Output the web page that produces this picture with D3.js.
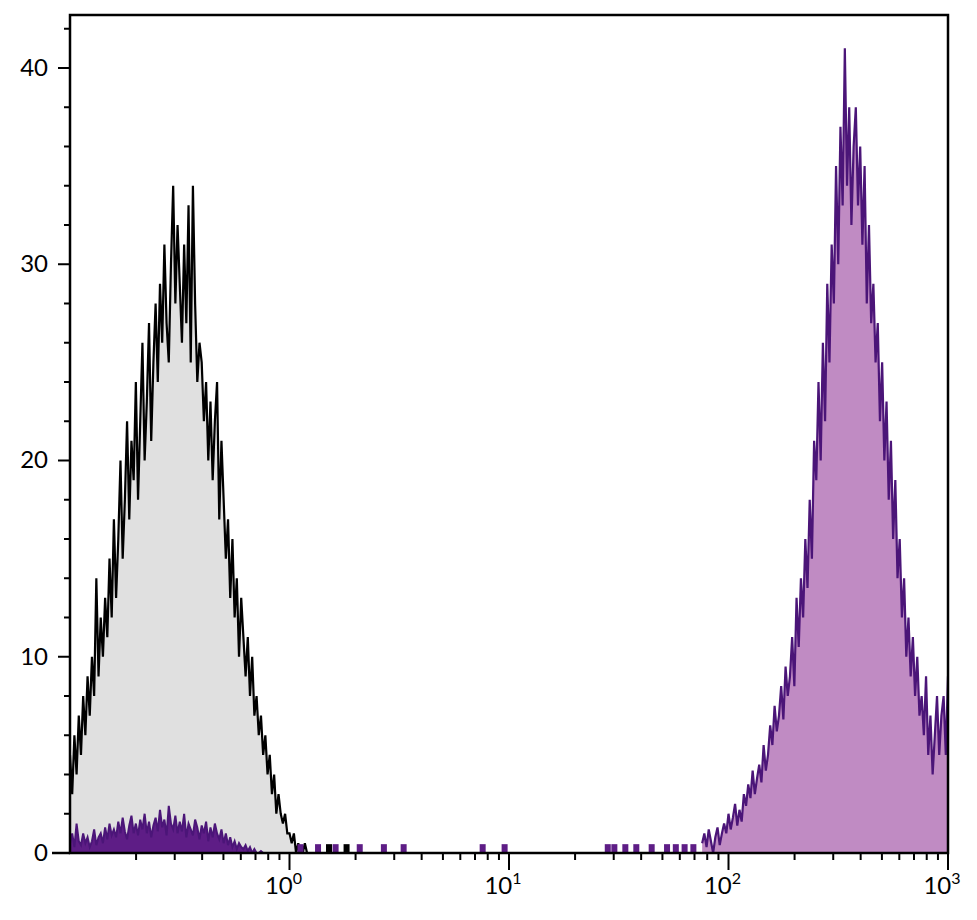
<!DOCTYPE html>
<head>
<meta charset="utf-8">
<script src="https://d3js.org/d3.v7.min.js"></script>
<style>
body { margin: 0; background: #fff; }
text { font-family: Lato, "Open Sans", sans-serif; }
</style>
</head>
<body>
<div id="container"></div>
<script>
// histogram bins: log10 start, step 0.01
const blackStart = -1.0;
const blackCounts = [
 5,3,6,4,7,5,8,6,9,7,
 10,8,14,9,12,10,13,11,15,12,
 17,13,16,20,15,18,22,17,21,19,
 24,18,22,26,20,23,27,21,25,28,
 24,29,26,31,27,25,30,34,28,32,
 29,26,31,27,33,25,34,28,24,26,
 25,22,24,20,23,19,22,24,17,21,
 18,15,17,13,16,12,14,10,13,11,
 9,11,8,10,7,8,6,7,5,6,
 4,5,3,4,2,3,2,1.5,2,1,
 1,0.5,1,0,0.5,0,0,0.5,0,0,0,0,0];
const lowPurpleStart = -1.0;
const lowPurpleCounts = [
 0.5,1,0.3,1.5,0.6,0.4,1,0.5,0.8,0.3,
 0.6,1.2,0.4,0.8,1,0.5,1.3,0.7,1.5,0.9,
 1.2,0.8,1.6,1,1.8,1.1,0.7,1.4,1.9,1,
 1.5,0.9,1.7,1.2,2,1,1.6,0.8,1.4,1.8,
 1.1,2.2,1.3,1.7,0.9,2.4,1.5,1.2,1.9,1,
 1.6,1.1,2,0.8,1.5,1.2,0.9,1.7,1.3,0.7,
 1.4,1,1.6,0.6,1.3,0.8,1.5,1,0.7,1.2,
 0.5,1,0.4,0.8,0.3,0.6,0.2,0.5,0.3,0.2,
 0.4,0.1,0.3,0,0.2,0,0,0.1,0,0,0];
const highPurpleStart = 1.88;
const highPurpleCounts = [
 0.5,1,0.3,1.2,0.6,0,0.8,1.3,0.4,1,
 1.5,1,2,1.2,1.8,2.5,1.4,2.2,1.6,3,
 2.4,3.5,2.8,4.2,3,3.8,4.5,3.6,5.5,4.2,
 5,6.5,5.5,7.5,6.2,7,8.5,6.8,9.5,8,
 9,11,8.5,13,10.5,14,12,16,13.5,18,
 15,21,19,24,20,26,22,29,25,31,
 28,35,30,37,33,41,34,38,32,36,
 38,33,36,31,35,28,32,27,29,25,
 27,22,25,20,23,18,21,16,19,14,
 16,12,14,10,12,9,11,8,10,7,
 8,6,9,5,7,4,6,8,5,7,
 8,5,9,6,4,2];
// sparse single-event bins (log10 position)
const purpleSpikes = [0.05, 0.13, 0.21, 0.32, 0.43, 0.52, 0.88, 0.98, 1.45, 1.48, 1.53, 1.58, 1.65, 1.72, 1.76, 1.8, 1.84];
const blackSpikes = [0.18, 0.26];
const yTicks = [0, 10, 20, 30, 40];
const xDecades = [0, 1, 2, 3];

const W = 977, H = 920;
const m = {left: 70, top: 15, right: 29, bottom: 67};
const svg = d3.select("#container").append("svg").attr("width", W).attr("height", H);

const x = d3.scaleLog().domain([0.1, 1000]).range([m.left, W - m.right]);
const y = d3.scaleLinear().domain([0, 42.7]).range([H - m.bottom, m.top]);

const toPts = (start, counts) => counts.map((c, i) => ({x: Math.pow(10, start + i * 0.01), y: c}));

svg.append("clipPath").attr("id", "clip").append("rect")
  .attr("x", m.left).attr("y", m.top).attr("width", W - m.left - m.right).attr("height", H - m.top - m.bottom);

const area = d3.area().x(d => x(d.x)).y0(y(0)).y1(d => y(d.y));
const line = d3.line().x(d => x(d.x)).y(d => y(d.y));

const g = svg.append("g").attr("clip-path", "url(#clip)");

const black = toPts(blackStart, blackCounts);
g.append("path").attr("d", area(black)).attr("fill", "#e0e0e0");
g.append("path").attr("d", line(black)).attr("fill", "none").attr("stroke", "#000").attr("stroke-width", 2.2);

const lowP = toPts(lowPurpleStart, lowPurpleCounts);
g.append("path").attr("d", area(lowP)).attr("fill", "#5e1d86");
g.append("path").attr("d", line(lowP)).attr("fill", "none").attr("stroke", "#4b1578").attr("stroke-width", 2);

const highP = toPts(highPurpleStart, highPurpleCounts);
g.append("path").attr("d", area(highP)).attr("fill", "#c08bc3");
g.append("path").attr("d", line(highP)).attr("fill", "none").attr("stroke", "#4b1578").attr("stroke-width", 2.2);

g.selectAll(".bs").data(blackSpikes).enter().append("rect")
  .attr("x", d => x(Math.pow(10, d)) - 3).attr("y", y(0.45)).attr("width", 6).attr("height", y(0) - y(0.45)).attr("fill", "#000");
g.selectAll(".ps").data(purpleSpikes).enter().append("rect")
  .attr("x", d => x(Math.pow(10, d)) - 3).attr("y", y(0.45)).attr("width", 6).attr("height", y(0) - y(0.45)).attr("fill", "#5e1d86");

// frame
svg.append("rect").attr("x", m.left).attr("y", m.top).attr("width", W - m.left - m.right).attr("height", H - m.top - m.bottom)
  .attr("fill", "none").attr("stroke", "#000").attr("stroke-width", 2.5);
svg.append("line").attr("x1", 52).attr("x2", m.left).attr("y1", y(0)).attr("y2", y(0)).attr("stroke", "#000").attr("stroke-width", 2.5);

// y axis
const yMinor = d3.range(0, 43, 2).filter(v => v % 10 !== 0);
svg.selectAll(".ymin").data(yMinor).enter().append("line")
  .attr("x1", m.left - 6).attr("x2", m.left).attr("y1", d => y(d)).attr("y2", d => y(d)).attr("stroke", "#000").attr("stroke-width", 2);
svg.selectAll(".ymaj").data(yTicks).enter().append("line")
  .attr("x1", m.left - 12).attr("x2", m.left).attr("y1", d => y(d)).attr("y2", d => y(d)).attr("stroke", "#000").attr("stroke-width", 2);
svg.selectAll(".ylab").data(yTicks).enter().append("text")
  .attr("x", 48).attr("y", d => y(d) + 8).attr("text-anchor", "end").attr("font-size", 24).text(d => d);

// x axis
const xMinor = [];
[-1, 0, 1, 2].forEach(e => { for (let k = 2; k <= 9; k++) xMinor.push(k * Math.pow(10, e)); });
svg.selectAll(".xmin").data(xMinor).enter().append("line")
  .attr("x1", d => x(d)).attr("x2", d => x(d)).attr("y1", y(0)).attr("y2", y(0) + 7).attr("stroke", "#000").attr("stroke-width", 2);
svg.selectAll(".xmaj").data(xDecades).enter().append("line")
  .attr("x1", d => x(Math.pow(10, d))).attr("x2", d => x(Math.pow(10, d))).attr("y1", y(0)).attr("y2", y(0) + 17).attr("stroke", "#000").attr("stroke-width", 2);
const xl = svg.selectAll(".xlab").data(xDecades).enter().append("text")
  .attr("x", d => x(Math.pow(10, d)) - 6).attr("y", 894).attr("text-anchor", "middle").attr("font-size", 24);
xl.append("tspan").text("10");
xl.append("tspan").attr("dy", -10).attr("font-size", 16).text(d => d);
</script>
</body>
